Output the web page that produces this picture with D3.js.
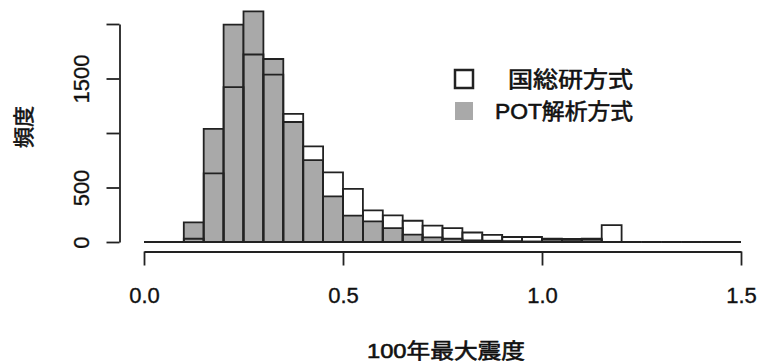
<!DOCTYPE html>
<html>
<head>
<meta charset="utf-8">
<script src="https://cdn.jsdelivr.net/npm/d3@7"></script>
<style>
  html, body { margin: 0; padding: 0; background: #fff; }
  svg { display: block; }
  text { font-family: "Liberation Sans", "Noto Sans CJK JP", sans-serif; fill: #111; stroke: #111; stroke-width: 0.35px; }
  text.title { stroke-width: 0.6px; }
</style>
</head>
<body>
<svg id="chart" width="761" height="362"></svg>
<script>
// Histogram bins: 0.05 wide, from 0.0 to 1.5
const binEdges = d3.range(0, 31).map(i => +(i * 0.05).toFixed(2));

// Counts per bin for each estimation method
const kokusokenCounts = [0, 0, 30, 630, 1420, 1720, 1535, 1175, 878, 638,
  488, 290, 244, 195, 150, 128, 87, 66, 46, 46,
  22, 20, 22, 155, 0, 0, 0, 0, 0, 0];
const potCounts = [0, 0, 180, 1037, 1994, 2116, 1679, 1101, 752, 419,
  242, 189, 128, 67, 42, 30, 15, 12, 8, 5,
  31, 29, 31, 0, 0, 0, 0, 0, 0, 0];

const seriesNames = ["国総研方式", "POT解析方式"];

const xTicks = [0, 0.5, 1.0, 1.5];
const xTickLabels = ["0.0", "0.5", "1.0", "1.5"];
const yTicks = [0, 500, 1000, 1500, 2000];
const yTickLabels = ["0", "500", "", "1500", ""];

const xTitle = "100年最大震度";
const yTitle = "頻度";

const svg = d3.select("#chart");
const ink = "#222";

const x = d3.scaleLinear().domain([0, 1.5]).range([144, 741]);
const y = d3.scaleLinear().domain([0, 2000]).range([242, 24]);

function barPath(lo, hi, n) {
  const x0 = x(lo), x1 = x(hi), y0 = y(0), y1 = y(n);
  return `M${x0},${y0}V${y1}H${x1}V${y0}Z`;
}

const bins = d3.range(binEdges.length - 1).map(i => ({
  lo: binEdges[i], hi: binEdges[i + 1], a: kokusokenCounts[i], b: potCounts[i]
}));

// POT histogram: filled grey bars
svg.append("g").selectAll("path").data(bins).join("path")
  .attr("d", d => barPath(d.lo, d.hi, d.b))
  .attr("fill", "#a9a9a9")
  .attr("stroke", ink).attr("stroke-width", 1.8);

// Kokusoken histogram: outlined bars drawn over the grey ones
svg.append("g").selectAll("path").data(bins).join("path")
  .attr("d", d => barPath(d.lo, d.hi, d.a))
  .attr("fill", "none")
  .attr("stroke", ink).attr("stroke-width", 1.8);

// x axis
const xAxis = svg.append("g")
  .attr("transform", "translate(0,251.5)")
  .call(d3.axisBottom(x).tickValues(xTicks).tickSize(14).tickSizeOuter(0)
    .tickFormat((d, i) => xTickLabels[i]));
xAxis.selectAll("path, line").attr("stroke", ink).attr("stroke-width", 1.8);
xAxis.selectAll("text")
  .attr("y", 51).attr("dy", null)
  .style("font-size", "22px")
  .style("font-family", "'Liberation Sans', sans-serif")
  .attr("fill", "#111");

// y axis
const yAxis = svg.append("g")
  .attr("transform", "translate(119.5,0)")
  .call(d3.axisLeft(y).tickValues(yTicks).tickSize(13).tickSizeOuter(0)
    .tickFormat((d, i) => yTickLabels[i]));
yAxis.selectAll("path, line").attr("stroke", ink).attr("stroke-width", 1.8);
yAxis.selectAll("text")
  .attr("x", null).attr("dy", null)
  .attr("text-anchor", "middle")
  .attr("transform", "translate(-31,0) rotate(-90)")
  .style("font-size", "22px")
  .style("font-family", "'Liberation Sans', sans-serif")
  .attr("fill", "#111");

// axis titles
svg.append("text")
  .attr("class", "title")
  .attr("x", 446).attr("y", 358)
  .attr("text-anchor", "middle")
  .attr("textLength", 158).attr("lengthAdjust", "spacingAndGlyphs")
  .style("font-size", "21px")
  .text(xTitle);

svg.append("text")
  .attr("class", "title")
  .attr("transform", "translate(31,127) rotate(-90)")
  .attr("text-anchor", "middle")
  .style("font-size", "21px")
  .text(yTitle);

// legend
const legend = svg.append("g");
const legendRows = [
  { name: seriesNames[0], fill: "#fff", stroke: ink, cy: 79, len: 125 },
  { name: seriesNames[1], fill: "#a9a9a9", stroke: "none", cy: 111, len: 138 }
];
legend.selectAll("rect").data(legendRows).join("rect")
  .attr("x", 455).attr("y", d => d.cy - 9)
  .attr("width", 18).attr("height", 18)
  .attr("fill", d => d.fill)
  .attr("stroke", d => d.stroke).attr("stroke-width", 2.5);
legend.selectAll("text").data(legendRows).join("text")
  .attr("class", "title")
  .attr("x", 633).attr("y", d => d.cy + 8)
  .attr("text-anchor", "end")
  .attr("textLength", d => d.len).attr("lengthAdjust", "spacingAndGlyphs")
  .style("font-size", "22px")
  .text(d => d.name);
</script>
</body>
</html>
